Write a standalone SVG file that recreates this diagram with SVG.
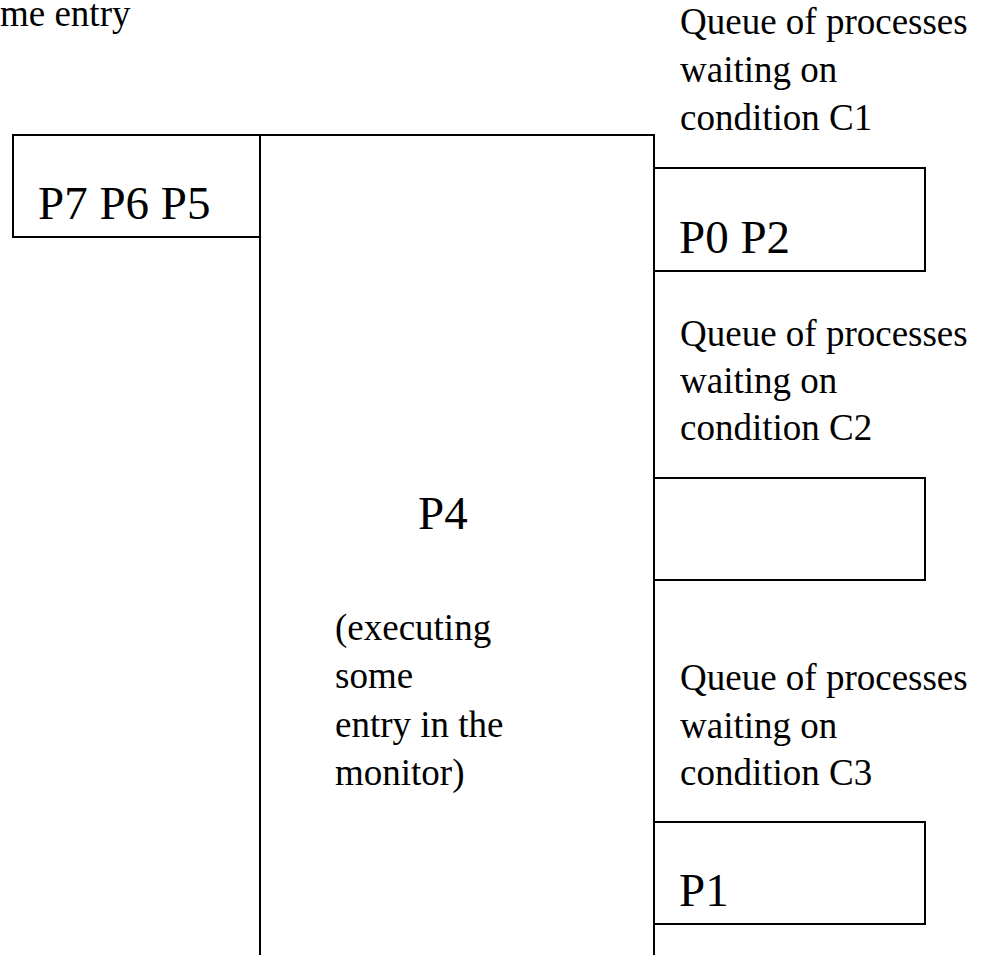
<svg xmlns="http://www.w3.org/2000/svg" width="981" height="955" viewBox="0 0 981 955">
<style>
.box{fill:none;stroke:#000;stroke-width:2}
.t{font-family:"Liberation Serif","Times New Roman",serif;font-size:37px;fill:#000}
.p{font-family:"Liberation Serif","Times New Roman",serif;font-size:47px;fill:#000}
</style>
<rect width="981" height="955" fill="#fff"/>
<text class="t" x="0" y="26">me entry</text>
<g id="monitor">
<path class="box" d="M260,955 V135 H654 V955"/>
<text class="p" x="418" y="529">P4</text>
<text class="t" x="335" y="640">(executing</text>
<text class="t" x="335" y="688">some</text>
<text class="t" x="335" y="737">entry in the</text>
<text class="t" x="335" y="785">monitor)</text>
</g>
<g id="entry-queue">
<rect class="box" x="13" y="135" width="247" height="102"/>
<text class="p" x="38" y="219">P7 P6 P5</text>
</g>
<g id="c1">
<text class="t" x="680" y="34">Queue of processes</text>
<text class="t" x="680" y="82">waiting on</text>
<text class="t" x="680" y="130">condition C1</text>
<rect class="box" x="654" y="168" width="271" height="103"/>
<text class="p" x="679" y="253">P0 P2</text>
</g>
<g id="c2">
<text class="t" x="680" y="346">Queue of processes</text>
<text class="t" x="680" y="393">waiting on</text>
<text class="t" x="680" y="440">condition C2</text>
<rect class="box" x="654" y="478" width="271" height="102"/>
</g>
<g id="c3">
<text class="t" x="680" y="690">Queue of processes</text>
<text class="t" x="680" y="738">waiting on</text>
<text class="t" x="680" y="785">condition C3</text>
<rect class="box" x="654" y="822" width="271" height="102"/>
<text class="p" x="679" y="906">P1</text>
</g>
<g id="connectors"></g>
</svg>
